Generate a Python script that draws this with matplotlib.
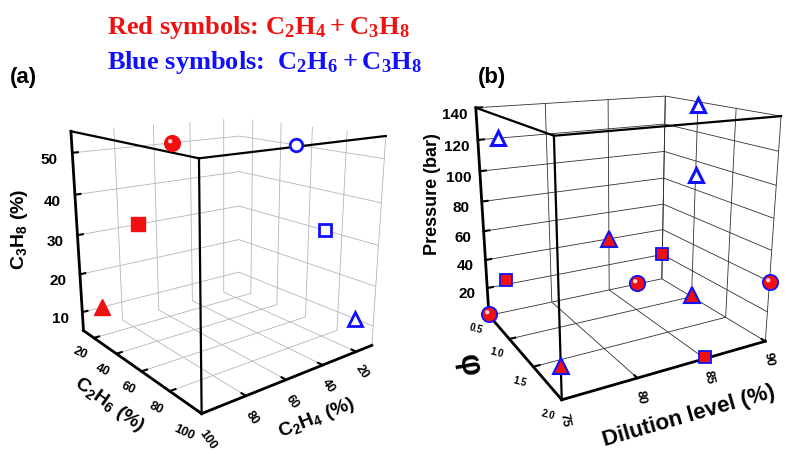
import matplotlib.pyplot as plt
from matplotlib.path import Path

# panel (a): mixture composition (%)
c2h4_red = [50, 70, 90]
c2h6_red = [10, 10, 10]
c3h8_red = [50, 30, 10]
c2h4_blue = [10, 10, 10]
c2h6_blue = [50, 70, 90]
c3h8_blue = [50, 30, 10]
comp_ticks = [20, 40, 60, 80, 100]
c3h8_ticks = [10, 20, 30, 40, 50]

# panel (b): test conditions (phi, dilution %, pressure bar)
phi_circ = [0.5, 1.0, 2.0]
dil_circ = [75, 85, 90]
p_circ = [1, 20, 40]
phi_sq = [1.0, 2.0, 0.5]
dil_sq = [75, 85, 90]
p_sq = [40, 1, 20]
phi_tri = [2.0, 0.5, 1.0]
dil_tri = [75, 85, 90]
p_tri = [20, 40, 1]
phi_blue = [1.0, 1.0, 1.0]
dil_blue = [75, 90, 90]
p_blue = [127, 138, 90]
phi_ticks = [0.5, 1.0, 1.5, 2.0]
dil_ticks = [75, 80, 85, 90]
p_ticks = [20, 40, 60, 80, 100, 120, 140]

RED = '#f01010'
BLUE = '#1010ff'

plt.rcParams['font.family'] = 'Liberation Sans'
plt.rcParams['font.weight'] = 'bold'
plt.rcParams['axes.labelweight'] = 'bold'
plt.rcParams['mathtext.fontset'] = 'custom'
plt.rcParams['mathtext.rm'] = 'Liberation Sans:bold'
plt.rcParams['mathtext.it'] = 'Liberation Sans:bold'
plt.rcParams['mathtext.bf'] = 'Liberation Sans:bold'
plt.rcParams['mathtext.sf'] = 'Liberation Serif:bold'

# small highlight drawn on top of the red circles
hl = Path.circle((-0.3, 0.3), 0.28)


def sphere(ax, x, y, z, ms, edge):
    ax.plot(x, y, z, ls='none', marker='o', ms=ms, mfc=RED, mec=edge, mew=1.3, zorder=5)
    ax.plot(x, y, z, ls='none', marker=hl, ms=ms * 0.58, mfc='#ffd6d6', mec='none', zorder=6)


def style(ax, gridcolor):
    ax.computed_zorder = False
    for axis in (ax.xaxis, ax.yaxis, ax.zaxis):
        axis.set_pane_color((1, 1, 1, 0))
        axis.pane.set_edgecolor(gridcolor)
        axis.pane.set_linewidth(0.7)
        axis._axinfo['grid'].update(color=gridcolor, linewidth=0.6)
        axis._axinfo['tick'].update(inward_factor=0.0, outward_factor=0.35)
        axis._axinfo['tick']['linewidth'] = {True: 1.5, False: 1.0}
        axis.line.set_linewidth(2.0)
        axis.line.set_color('black')
    ax.tick_params(colors='black')


fig = plt.figure(figsize=(8.06, 4.56), dpi=100)

# ---------------- panel (a)
axa = fig.add_axes([0.001, 0.009, 0.54, 0.9], projection='3d')
axa.set_proj_type('persp', focal_length=0.3)
axa.view_init(elev=16, azim=52)
axa.set_xlim(10, 100)
axa.set_ylim(10, 100)
axa.set_zlim(5, 55)
axa.set_box_aspect((0.95, 0.95, 0.94), zoom=0.875)
style(axa, '#b5b5b5')
axa.set_xticks(comp_ticks)
axa.set_yticks(comp_ticks)
axa.set_zticks(c3h8_ticks)
axa.tick_params(axis='x', labelsize=9, labelrotation=-55, pad=-2)
axa.tick_params(axis='y', labelsize=9, labelrotation=-25, pad=-4)
axa.tick_params(axis='z', labelsize=11, pad=4)
for lab in axa.get_yticklabels():
    lab.set_ha('right')
axa.set_xlabel(r'C$_2$H$_4$ (%)', fontsize=14, labelpad=0)
axa.set_ylabel(r'C$_2$H$_6$ (%)', fontsize=14, labelpad=0)
fig.text(0.024, 0.498, r'C$_3$H$_8$ (%)', fontsize=14, rotation=90, ha='center', va='center')

# bold frame edges
axa.plot([100, 100], [100, 100], [5, 55], color='black', lw=1.6, zorder=3)
axa.plot([100, 100], [100, 10], [55, 55], color='black', lw=1.6, zorder=3)
axa.plot([100, 10], [100, 100], [55, 55], color='black', lw=1.6, zorder=3)

sphere(axa, c2h4_red[:1], c2h6_red[:1], c3h8_red[:1], 11, RED)
axa.plot(c2h4_red[1:2], c2h6_red[1:2], c3h8_red[1:2], ls='none', marker='s', ms=10, color=RED, zorder=5)
axa.plot(c2h4_red[2:], c2h6_red[2:], c3h8_red[2:], ls='none', marker='^', ms=12, color=RED, zorder=5)
axa.plot(c2h4_blue[:1], c2h6_blue[:1], c3h8_blue[:1], ls='none', marker='o', ms=9, mfc='white', mec=BLUE, mew=2, zorder=5)
axa.plot(c2h4_blue[1:2], c2h6_blue[1:2], c3h8_blue[1:2], ls='none', marker='s', ms=9, mfc='white', mec=BLUE, mew=2, zorder=5)
axa.plot(c2h4_blue[2:], c2h6_blue[2:], c3h8_blue[2:], ls='none', marker='^', ms=10, mfc='white', mec=BLUE, mew=2, zorder=5)

# ---------------- panel (b)
axb = fig.add_axes([0.489, 0.042, 0.55, 0.9], projection='3d')
axb.set_proj_type('persp', focal_length=0.3)
axb.view_init(elev=17, azim=-29)
axb.set_xlim(0.5, 2.0)
axb.set_ylim(75, 90)
axb.set_zlim(0, 140)
axb.set_box_aspect((1, 1.15, 1.16), zoom=0.88)
style(axb, '#303030')
axb.zaxis.set_ticks_position('lower')
axb.set_xticks(phi_ticks)
axb.set_yticks(dil_ticks)
axb.set_zticks(p_ticks)
axb.tick_params(axis='x', labelsize=7, labelrotation=-15, pad=-4)
axb.tick_params(axis='y', labelsize=9, labelrotation=-80, pad=-3)
axb.tick_params(axis='z', labelsize=11, pad=4)
for lab in axb.get_xticklabels():
    lab.set_ha('right')
axb.set_ylabel('Dilution level (%)', fontsize=16, labelpad=2)
fig.text(0.536, 0.575, 'Pressure (bar)', fontsize=13, rotation=90, ha='center', va='center')
fig.text(0.581, 0.2, 'φ', fontsize=22, rotation=-80, ha='center', va='center')

axb.plot([2.0, 2.0], [75, 75], [0, 140], color='black', lw=1.6, zorder=3)
axb.plot([2.0, 0.5], [75, 75], [140, 140], color='black', lw=1.6, zorder=3)
axb.plot([2.0, 2.0], [75, 90], [140, 140], color='black', lw=1.6, zorder=3)

sphere(axb, phi_circ, dil_circ, p_circ, 11, BLUE)
axb.plot(phi_sq, dil_sq, p_sq, ls='none', marker='s', ms=9, mfc=RED, mec=BLUE, mew=1.3, zorder=5)
axb.plot(phi_tri, dil_tri, p_tri, ls='none', marker='^', ms=12, mfc=RED, mec=BLUE, mew=1.5, zorder=5)
axb.plot(phi_blue, dil_blue, p_blue, ls='none', marker='^', ms=10, mfc='white', mec=BLUE, mew=2.2, zorder=5)

# ---------------- header text and panel tags
fig.text(0.133, 0.94, r'Red symbols: $\mathsf{C_2H_4 + C_3H_8}$', color=RED,
         family='Liberation Serif', fontsize=19, ha='left', va='center')
fig.text(0.133, 0.862, r'Blue symbols:  $\mathsf{C_2H_6 + C_3H_8}$', color=BLUE,
         family='Liberation Serif', fontsize=19, ha='left', va='center')
fig.text(0.012, 0.83, '(a)', fontsize=16, ha='left', va='center')
fig.text(0.593, 0.83, '(b)', fontsize=16, ha='left', va='center')

fig.savefig('out.png', dpi=100)
